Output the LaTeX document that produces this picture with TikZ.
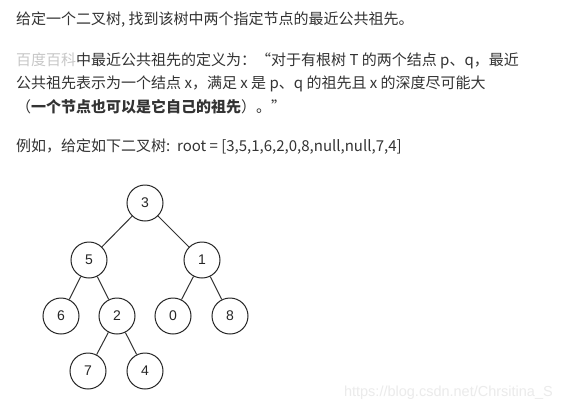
\documentclass[tikz,border=0pt]{standalone}
\usepackage{fontspec}
\setmainfont{Liberation Sans}
\newfontfamily\cjk{Noto Sans CJK SC}
\newfontfamily\lat{Liberation Sans}
\definecolor{txt}{HTML}{333333}
\definecolor{lnk}{HTML}{C8C8C8}
\definecolor{wm}{HTML}{EBEBEB}
\begin{document}
\begin{tikzpicture}[x=1pt,y=-1pt,
  line/.style={anchor=west,inner sep=0pt,text=txt,font=\cjk\fontsize{15}{16}\selectfont},
  tn/.style={circle,draw=black!85,line width=1pt,minimum size=36pt,inner sep=0pt,font=\lat\fontsize{14}{15}\selectfont,text=black!85},
  edge/.style={draw=black!80,line width=1pt}]
\useasboundingbox[fill=white] (0,0) rectangle (563,413);
\node[line] (l1) at (16,20) {给定一个二叉树, 找到该树中两个指定节点的最近公共祖先。};
\node[line] (l2) at (16,61) {{\color{lnk}百度百科}中最近公共祖先的定义为：“对于有根树 T 的两个结点 p、q，最近};
\node[line] (l3) at (16,84) {公共祖先表示为一个结点 x，满足 x 是 p、q 的祖先且 x 的深度尽可能大};
\node[line] (l4) at (16,107) {（\textbf{一个节点也可以是它自己的祖先}）。”};
\node[line] (l5) at (16,147) {例如，给定如下二叉树:\ \ root = [3,5,1,6,2,0,8,null,null,7,4]};
\node[tn] (n3) at (145,203) {3};
\node[tn] (n5) at (89,260) {5};
\node[tn] (n1) at (202,260) {1};
\node[tn] (n6) at (61,316) {6};
\node[tn] (n2) at (117,316) {2};
\node[tn] (n0) at (173,316) {0};
\node[tn] (n8) at (230,316) {8};
\node[tn] (n7) at (88,371) {7};
\node[tn] (n4) at (145,371) {4};
\draw[edge] (n3) -- (n5);
\draw[edge] (n3) -- (n1);
\draw[edge] (n5) -- (n6);
\draw[edge] (n5) -- (n2);
\draw[edge] (n1) -- (n0);
\draw[edge] (n1) -- (n8);
\draw[edge] (n2) -- (n7);
\draw[edge] (n2) -- (n4);
\node[anchor=east,inner sep=0pt,text=wm,font=\lat\fontsize{14.5}{16}\selectfont] (wmk) at (553,393) {https://blog.csdn.net/Chrsitina\_S};
\end{tikzpicture}
\end{document}
